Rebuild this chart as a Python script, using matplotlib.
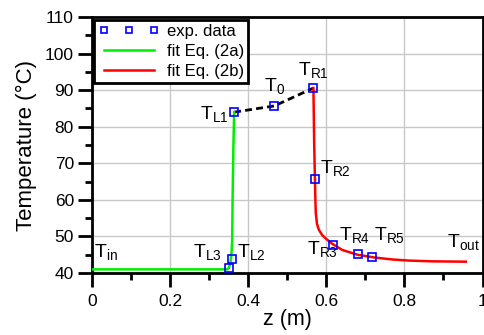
import numpy as np
import matplotlib.pyplot as plt
from matplotlib.ticker import MultipleLocator

plt.rcParams['font.family'] = ['Liberation Sans', 'DejaVu Sans']
plt.rcParams['mathtext.fontset'] = 'custom'
plt.rcParams['mathtext.rm'] = 'Liberation Sans'

# experimental points: TL3, TL2, TL1, T0, TR1, TR2, TR3, TR4, TR5
z_exp = [0.351, 0.359, 0.364, 0.467, 0.567, 0.572, 0.618, 0.681, 0.718]
T_exp = [41.5, 43.8, 84.0, 85.7, 90.6, 65.7, 47.8, 45.1, 44.5]

# fit Eq. (2a)
z_a = [0.0, 0.345, 0.350, 0.354, 0.357, 0.359, 0.360, 0.362, 0.364]
T_a = [41.0, 41.0, 41.3, 42.5, 45.0, 49.0, 60.0, 74.0, 84.0]

# fit Eq. (2b)
z_b = [0.567, 0.569, 0.571, 0.572, 0.573, 0.576, 0.581, 0.590, 0.598, 0.615,
       0.641, 0.68, 0.726, 0.77, 0.812, 0.87, 0.957]
T_b = [90.6, 75.0, 65.0, 60.0, 56.5, 53.5, 51.8, 50.3, 49.5, 48.0,
       46.3, 45.0, 44.2, 43.7, 43.4, 43.2, 43.1]

# point labels (left/baseline position in data coords)
lab_text = ['in', 'L3', 'L2', 'L1', '0', 'R1', 'R2', 'R3', 'R4', 'R5', 'out']
lab_z = [0.005, 0.259, 0.372, 0.277, 0.441, 0.528, 0.585, 0.551, 0.633, 0.723, 0.908]
lab_T = [44.1, 44.1, 44.1, 81.8, 89.5, 94.1, 67.3, 44.9, 48.75, 48.75, 46.8]

fig = plt.figure(figsize=(4.84, 3.35), dpi=100)
ax = fig.add_axes([0.19, 0.185, 0.807, 0.764])

ax.plot(z_exp[2:5], T_exp[2:5], '--', color='black', lw=2, dashes=(2.5, 1.5), zorder=2)
ax.plot(z_a, T_a, color='#00ee00', lw=1.8, label='fit Eq. (2a)', zorder=3)
ax.plot(z_b, T_b, color='red', lw=1.8, label='fit Eq. (2b)', zorder=3)
ax.plot(z_exp, T_exp, 's', mfc='none', mec='blue', ms=6, mew=1.2,
        label='exp. data', zorder=4)

for t, x, y in zip(lab_text, lab_z, lab_T):
    ax.text(x, y, r'T$_{\mathrm{%s}}$' % t, fontsize=14, ha='left', va='baseline')

ax.set_xlim(0, 1)
ax.set_ylim(40, 110)
ax.xaxis.set_minor_locator(MultipleLocator(0.1))
ax.yaxis.set_major_locator(MultipleLocator(10))
ax.yaxis.set_minor_locator(MultipleLocator(5))
ax.set_xticks([0, 0.2, 0.4, 0.6, 0.8, 1.0])
ax.set_xticklabels(['0', '0.2', '0.4', '0.6', '0.8', '1'])
ax.grid(True, which='major', color='#c8c8c8', lw=1)
ax.set_axisbelow(True)
for s in ax.spines.values():
    s.set_linewidth(2)
ax.tick_params(which='major', direction='out', length=10, width=2, labelsize=12.5)
ax.tick_params(which='minor', direction='out', length=5, width=2)
ax.tick_params(axis='x', which='major', pad=5)
ax.tick_params(axis='y', which='major', pad=3)

ax.set_xlabel('z (m)', fontsize=15.5, labelpad=0)
ax.set_ylabel('Temperature (°C)', fontsize=16, labelpad=6)

h, l = ax.get_legend_handles_labels()
order = [2, 0, 1]
leg = ax.legend([h[i] for i in order], [l[i] for i in order], loc='upper left',
                numpoints=3, handlelength=3.6, fontsize=12, fancybox=False,
                framealpha=1, edgecolor='black', borderaxespad=0.15,
                handletextpad=0.5, labelspacing=0.3, borderpad=0.25,
                markerscale=0.8)
leg.get_frame().set_linewidth(2)

fig.savefig('out.png', dpi=100)
